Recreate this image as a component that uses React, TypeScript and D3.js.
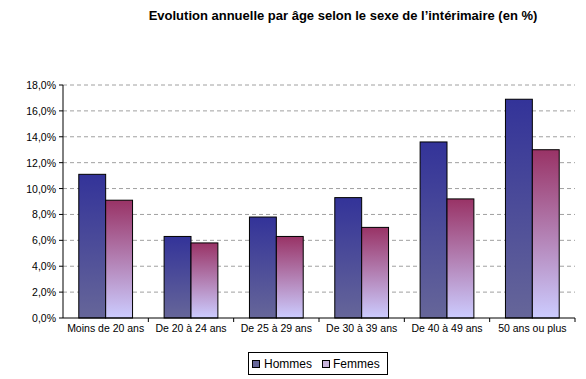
import React from "react";
import * as d3 from "d3";

const categories = ["Moins de 20 ans", "De 20 à 24 ans", "De 25 à 29 ans", "De 30 à 39 ans", "De 40 à 49 ans", "50 ans ou plus"];
const hommes = [11.1, 6.3, 7.8, 9.3, 13.6, 16.9];
const femmes = [9.1, 5.8, 6.3, 7.0, 9.2, 13.0];
const yTicks = [0, 2, 4, 6, 8, 10, 12, 14, 16, 18];
const seriesNames = ["Hommes", "Femmes"];

const W = 586, H = 379;
const left = 63, right = 575, top = 85, bottom = 318;

export default function App() {
  const x = d3.scaleBand<string>().domain(categories).range([left, right]).paddingInner(0).paddingOuter(0);
  const y = d3.scaleLinear().domain([0, 18]).range([bottom, top]);
  const bw = x.bandwidth();
  const barW = bw * 0.315;
  const fmt = (v: number) => v.toFixed(1).replace(".", ",") + "%";
  const font = "'Liberation Sans', Arial, sans-serif";
  return (
    <svg width={W} height={H} style={{ position: "absolute", left: 0, top: 0 }} fontFamily={font}>
      <defs>
        <linearGradient id="gH" x1="0" y1="0" x2="0" y2="1">
          <stop offset="0" stopColor="#333399" />
          <stop offset="1" stopColor="#666699" />
        </linearGradient>
        <linearGradient id="gF" x1="0" y1="0" x2="0" y2="1">
          <stop offset="0" stopColor="#993366" />
          <stop offset="1" stopColor="#ccccff" />
        </linearGradient>
      </defs>
      <rect x={0} y={0} width={W} height={H} fill="#fff" />
      <text x={343} y={20} textAnchor="middle" fontSize={13} fontWeight="bold" fill="#000">
        Evolution annuelle par âge selon le sexe de l’intérimaire (en %)
      </text>
      {yTicks.filter(t => t > 0).map(t => (
        <line key={"g" + t} x1={left} x2={right} y1={y(t)} y2={y(t)} stroke="#a0a0a0" strokeDasharray="4,3" strokeWidth={1} />
      ))}
      {categories.map((c, i) => {
        const cx = (x(c) as number) + bw / 2;
        return (
          <g key={c}>
            <rect x={cx - barW} y={y(hommes[i])} width={barW} height={bottom - y(hommes[i])} fill="url(#gH)" stroke="#000" strokeWidth={1} />
            <rect x={cx} y={y(femmes[i])} width={barW} height={bottom - y(femmes[i])} fill="url(#gF)" stroke="#000" strokeWidth={1} />
            <text x={cx} y={332} textAnchor="middle" fontSize={10.5} fill="#000">{c}</text>
          </g>
        );
      })}
      <line x1={left} x2={left} y1={top} y2={bottom} stroke="#000" />
      <line x1={left} x2={right} y1={bottom} y2={bottom} stroke="#000" />
      {yTicks.map(t => (
        <g key={"t" + t}>
          <line x1={left - 4} x2={left} y1={y(t)} y2={y(t)} stroke="#000" />
          <text x={56} y={y(t) + 4} textAnchor="end" fontSize={10.5} fill="#000">{fmt(t)}</text>
        </g>
      ))}
      {categories.map((c, i) => (
        <line key={"xt" + i} x1={(x(c) as number) + bw} x2={(x(c) as number) + bw} y1={bottom} y2={bottom + 4} stroke="#000" />
      ))}
      <rect x={248.5} y={352.5} width={139} height={22} fill="#fff" stroke="#000" />
      <rect x={252.5} y={360.5} width={7} height={7} fill="#666699" stroke="#000" />
      <text x={264} y={368} fontSize={12} fill="#000">{seriesNames[0]}</text>
      <rect x={322.5} y={360.5} width={7} height={7} fill="#c8b4dc" stroke="#000" />
      <text x={333} y={368} fontSize={12} fill="#000">{seriesNames[1]}</text>
    </svg>
  );
}
